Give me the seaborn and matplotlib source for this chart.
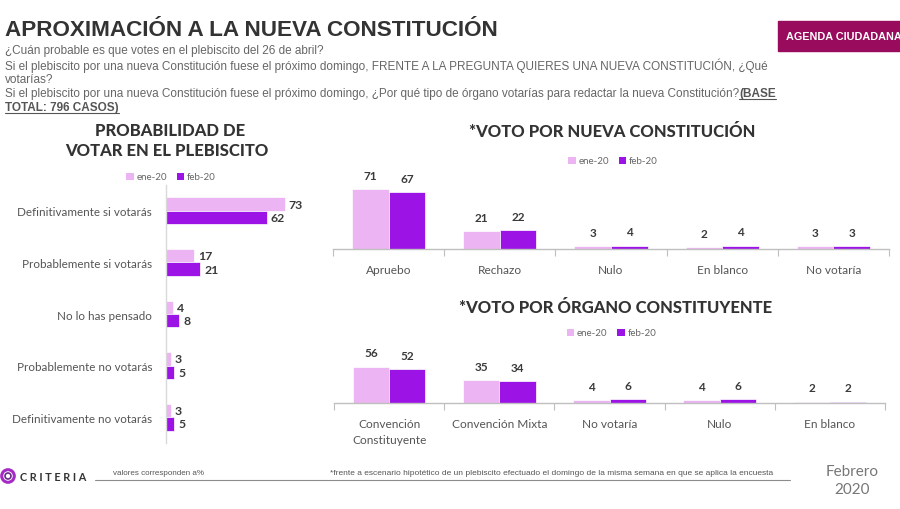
import matplotlib
matplotlib.use("Agg")
import matplotlib.pyplot as plt
from matplotlib.patches import Rectangle, Circle, Patch
import numpy as np
import pandas as pd
import seaborn as sns

# ---------------- data ----------------
series = ["ene-20", "feb-20"]

prob_cats = ["Definitivamente si votarás", "Probablemente si votarás", "No lo has pensado",
             "Probablemente no votarás", "Definitivamente no votarás"]
prob_ene = [73, 17, 4, 3, 3]
prob_feb = [62, 21, 8, 5, 5]

voto_cats = ["Apruebo", "Rechazo", "Nulo", "En blanco", "No votaría"]
voto_ene = [71, 21, 3, 2, 3]
voto_feb = [67, 22, 4, 4, 3]

organo_cats = ["Convención\nConstituyente", "Convención Mixta", "No votaría", "Nulo", "En blanco"]
organo_ene = [56, 35, 4, 4, 2]
organo_feb = [52, 34, 6, 6, 2]

colors = ["#ECB4F3", "#9B14E5"]

def long_df(cats, ene, feb):
    return pd.DataFrame({
        "cat": list(cats) * 2,
        "serie": [series[0]] * len(cats) + [series[1]] * len(cats),
        "valor": list(ene) + list(feb),
    })

# ---------------- figure ----------------
sns.set_theme(style="white")
plt.rcParams["font.family"] = ["Lato", "DejaVu Sans"]

W, H = 900, 510
fig = plt.figure(figsize=(9, 5.1), dpi=100)
fig.patch.set_facecolor("white")

NARROW = ["Liberation Sans", "DejaVu Sans"]
TXT = "#3a3a3a"
GRAY = "#666666"

# overlay axes in pixel coordinates for free text
ov = fig.add_axes([0, 0, 1, 1])
ov.set_xlim(0, W)
ov.set_ylim(H, 0)
ov.axis("off")
ov.patch.set_visible(False)

def px_axes(x0, y0, x1, y1):
    return fig.add_axes([x0 / W, 1 - y1 / H, (x1 - x0) / W, (y1 - y0) / H])

def legend_at(ax, cx, cy):
    handles = [Patch(facecolor=c, edgecolor="none") for c in colors]
    ax.legend(handles, series, loc="center", bbox_to_anchor=(cx / W, 1 - cy / H),
              bbox_transform=fig.transFigure, ncol=2, frameon=False,
              handlelength=0.75, handleheight=0.75, handletextpad=0.3,
              columnspacing=1.0, fontsize=7, labelcolor=GRAY)

# ---------------- left: horizontal bars ----------------
axL = px_axes(166, 186, 306, 444)
dfL = long_df(prob_cats, prob_ene, prob_feb)
sns.barplot(data=dfL, x="valor", y="cat", hue="serie", palette=colors, orient="h",
            width=0.52, saturation=1, edgecolor="white", linewidth=0.5,
            legend=False, ax=axL)
axL.set_xlim(0, 140 / 1.625)
axL.set_xlabel("")
axL.set_ylabel("")
axL.set_xticks([])
for s in ["top", "right", "bottom"]:
    axL.spines[s].set_visible(False)
axL.spines["left"].set_color("#d9d9d9")
axL.spines["left"].set_linewidth(1)
axL.tick_params(axis="y", length=0, pad=10, labelsize=8.4, labelcolor="#555555")
for cont in axL.containers:
    axL.bar_label(cont, padding=3, fontsize=8.8, fontweight="bold", color=TXT)
legend_at(axL, 171, 178)

# ---------------- vertical charts ----------------
def vertical(box, cats, ene, feb, ppu, legend_y):
    x0, y0, x1, y1 = box
    ax = px_axes(*box)
    df = long_df(cats, ene, feb)
    sns.barplot(data=df, x="cat", y="valor", hue="serie", palette=colors,
                width=0.66, saturation=1, edgecolor="white", linewidth=0.5,
                legend=False, ax=ax)
    ax.set_ylim(0, (y1 - y0) / ppu)
    ax.set_xlim(-0.5, len(cats) - 0.5)
    ax.set_xlabel("")
    ax.set_ylabel("")
    ax.set_yticks([])
    for s in ["top", "right", "left"]:
        ax.spines[s].set_visible(False)
    ax.spines["bottom"].set_color("#bfbfbf")
    ax.spines["bottom"].set_linewidth(1)
    ax.set_xticks(np.arange(-0.5, len(cats), 1.0), minor=True)
    ax.tick_params(axis="x", which="minor", length=5, width=0.8, color="#bfbfbf",
                   direction="out", bottom=True)
    ax.tick_params(axis="x", which="major", length=0, pad=11, labelsize=8.6,
                   labelcolor="#555555")
    for lab in ax.get_xticklabels():
        lab.set_linespacing(1.55)
    for cont in ax.containers:
        ax.bar_label(cont, padding=6, fontsize=8.5, fontweight="bold", color=TXT)
    legend_at(ax, (x0 + x1) / 2 + 2, legend_y)
    return ax

vertical((333, 170, 889, 250), voto_cats, voto_ene, voto_feb, 0.845, 162)
vertical((334, 345, 885, 404), organo_cats, organo_ene, organo_feb, 0.65, 334)

# ---------------- texts ----------------
ov.text(5, 30, "APROXIMACIÓN A LA NUEVA CONSTITUCIÓN", fontsize=16.2, fontweight="bold",
        family=NARROW, color="#333333", va="center")

sub = [
    "¿Cuán probable es que votes en el plebiscito del 26 de abril?",
    "Si el plebiscito por una nueva Constitución fuese el próximo domingo, FRENTE A LA PREGUNTA QUIERES UNA NUEVA CONSTITUCIÓN, ¿Qué",
    "votarías?",
    "Si el plebiscito por una nueva Constitución fuese el próximo domingo, ¿Por qué tipo de órgano votarías para redactar la nueva Constitución?",
]
sub_y = [51, 66, 80, 94]
SUBFS = 8.5
for t, y in zip(sub, sub_y):
    last = ov.text(5, y, t, fontsize=SUBFS, family=NARROW, color=GRAY, va="center")

fig.canvas.draw()
r = fig.canvas.get_renderer()
bb = last.get_window_extent(r)
x_end = bb.x1
bold1 = ov.text(x_end, 94, "(BASE", fontsize=SUBFS, family=NARROW, color="#555555",
                va="center", fontweight="bold")
bold2 = ov.text(5, 108, "TOTAL: 796 CASOS)", fontsize=SUBFS, family=NARROW, color="#555555",
                va="center", fontweight="bold")
fig.canvas.draw()
for tt, y in [(bold1, 94), (bold2, 108)]:
    b = tt.get_window_extent(r)
    ov.plot([b.x0, b.x1], [y + 6, y + 6], color="#555555", lw=0.8)

# badge
ov.add_patch(Rectangle((778, 22), 130, 30, color="#990B5C", clip_on=False))
ov.text(786, 37.5, "AGENDA CIUDADANA", fontsize=7.8, fontweight="bold", family=NARROW,
        color="white", va="center")

# section titles
for t, x, y in [("PROBABILIDAD DE", 170, 131), ("VOTAR EN EL PLEBISCITO", 167, 151),
                ("*VOTO POR NUEVA CONSTITUCIÓN", 612, 132),
                ("*VOTO POR ÓRGANO CONSTITUYENTE", 616, 308)]:
    ov.text(x, y, t, fontsize=12, fontweight="black", color="#333333",
            ha="center", va="center")

# footer
ov.add_patch(Circle((8, 477), 6.3, fill=False, lw=2.2, edgecolor="#A52BC6"))
ov.add_patch(Circle((8, 477), 3.0, fill=False, lw=1.2, edgecolor="#6a2a8a"))
ov.text(20, 478, "C R I T E R I A", fontsize=7.8, fontweight="bold", color="#333333",
        va="center")
ov.plot([95, 790], [481, 481], color="#8c8c8c", lw=0.8)
ov.text(113, 474, "valores corresponden a%", fontsize=5.8, family=NARROW, color="#555555",
        va="center")
ov.text(330, 474, "*frente a escenario hipotético de un plebiscito efectuado el domingo de la misma semana en que se aplica la encuesta",
        fontsize=6.0, family=NARROW, color="#555555", va="center")
ov.text(852, 472, "Febrero", fontsize=11, color="#777777", ha="center", va="center")
ov.text(852, 490, "2020", fontsize=11, color="#777777", ha="center", va="center")

fig.savefig("out.png", dpi=100)
